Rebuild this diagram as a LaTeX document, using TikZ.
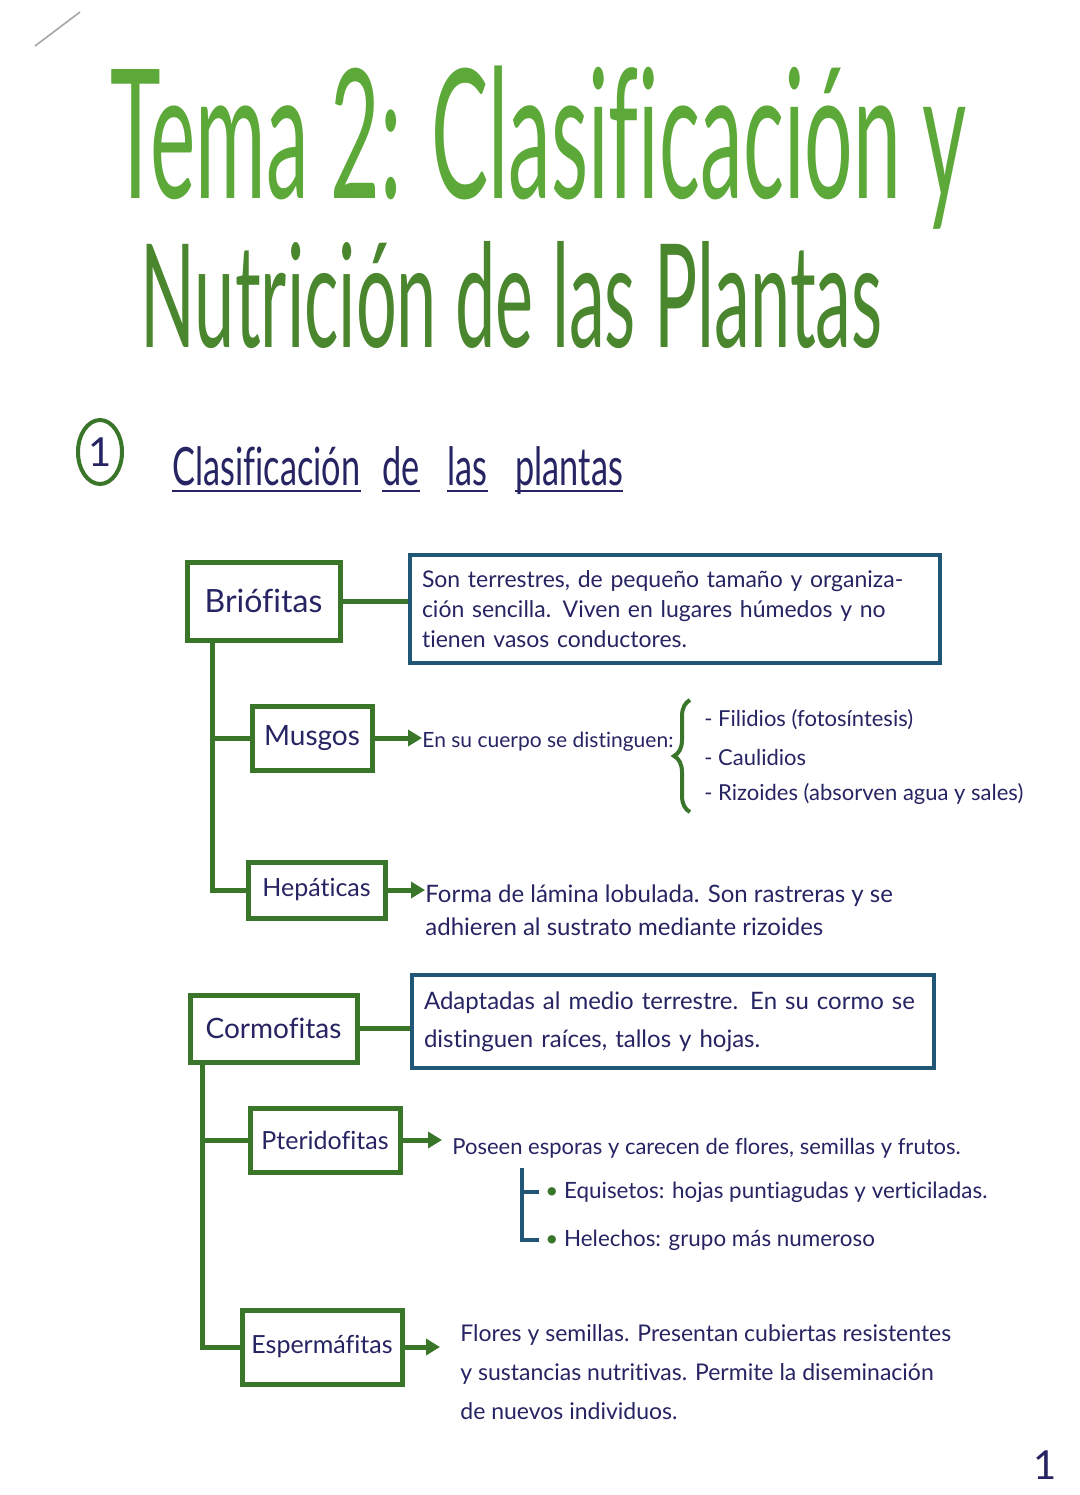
\documentclass[tikz,border=0pt]{standalone}
\usepackage{fontspec}
\setmainfont{Lato}[Ligatures=NoCommon]
\usetikzlibrary{positioning,calc,arrows.meta,shapes.geometric,decorations.pathreplacing}
\definecolor{tinta}{RGB}{38,36,98}
\definecolor{verdecaja}{RGB}{58,118,42}
\definecolor{verdetitulo}{RGB}{92,168,56}
\definecolor{azulcaja}{RGB}{32,86,118}
\newcommand{\estirar}[1]{\scalebox{0.78}[1.2]{#1}}

\begin{document}
\begin{tikzpicture}[x=0.5pt,y=-0.5pt,
    grupo/.style={draw=verdecaja,line width=2.5pt,fill=white,text=tinta,
      font=\fontsize{12.5}{15}\selectfont,inner sep=0pt},
    nota/.style={draw=azulcaja,line width=2pt,text=tinta,align=left,anchor=west,inner sep=6pt},
    texto/.style={text=tinta,align=left,anchor=west,inner sep=0pt},
    palabra/.style={text=tinta,anchor=base west,inner sep=0pt,font=\fontsize{22}{22}\selectfont},
    rama/.style={draw=verdecaja,line width=2.5pt},
    flecha/.style={rama,-{Triangle[length=7pt,width=8pt]}}]

  \useasboundingbox (0,0) rectangle (1080,1495);
  \fill[white] (0,0) rectangle (1080,1495);

  \draw[gray!70,line width=0.8pt] (35,46) -- (80,12);

  % titulo
  \node[text=verdetitulo,anchor=base west,inner sep=0pt] (tit1) at (110,198)
    {\scalebox{0.476}[1]{\fontsize{90}{90}\selectfont Tema 2: Clasificación y}};
  \node[text=verdetitulo!80!black,anchor=base west,inner sep=0pt] (tit2) at (140,347)
    {\scalebox{0.5}[1]{\fontsize{72}{72}\selectfont Nutrición de las Plantas}};

  % apartado 1
  \node[ellipse,draw=verdecaja,line width=2pt,minimum width=22pt,minimum height=32pt,
    inner sep=0pt,text=tinta,font=\fontsize{20}{20}\selectfont] (num) at (100,452) {1};
  \node[palabra] (h1) at (172,485) {\estirar{Clasificación}};
  \node[palabra] (h2) at (382,485) {\estirar{de}};
  \node[palabra] (h3) at (447,485) {\estirar{las}};
  \node[palabra] (h4) at (515,485) {\estirar{plantas}};
  \foreach \w in {h1,h2,h3,h4}
    \draw[tinta,line width=0.8pt] ([yshift=-3pt]\w.base west) -- ([yshift=-3pt]\w.base east);

  % briofitas
  \node[grupo,minimum width=76.5pt,minimum height=39pt,font=\fontsize{16}{18}\selectfont] (brio) at (263.5,601) {Briófitas};
  \node[nota,minimum width=265pt,minimum height=54pt,text width=253pt,
    font=\fontsize{11.5}{15}\selectfont] (brioinfo) at (408,609)
    {Son terrestres, de pequeño tamaño y organiza-\\ción sencilla. Viven en lugares húmedos y no\\tienen vasos conductores.};
  \draw[rama] (brio.east) -- (brio.east -| brioinfo.west);

  \node[grupo,minimum width=60pt,minimum height=32pt,font=\fontsize{14}{16}\selectfont] (musgos) at (312,738) {Musgos};
  \node[texto,font=\fontsize{10.5}{15}\selectfont] (musgostxt) at (422,742) {En su cuerpo se distinguen:};
  \draw[flecha] (musgos.east) -- (musgos.east -| musgostxt.west);
  \draw[rama,line width=2pt,decorate,decoration={brace,amplitude=8pt}] (690,812) -- (690,700);
  \foreach \t [count=\i] in {Filidios (fotosíntesis),Caulidios,Rizoides (absorven agua y sales)}
    \node[texto,font=\fontsize{11}{15}\selectfont] (item\i) at (704,{683+37*\i}) {- \t};

  \node[grupo,minimum width=68.5pt,minimum height=28pt] (hepat) at (316.5,890) {Hepáticas};
  \node[texto,font=\fontsize{12}{16.5}\selectfont] (hepattxt) at (425,910)
    {Forma de lámina lobulada. Son rastreras y se\\adhieren al sustrato mediante rizoides};
  \draw[flecha] (hepat.east) -- (hepat.east -| hepattxt.west);

  \draw[rama] ([xshift=14pt]brio.south west) |- (musgos.west);
  \draw[rama] ([xshift=14pt]brio.south west) |- (hepat.west);

  % cormofitas
  \node[grupo,minimum width=83.5pt,minimum height=33.5pt,font=\fontsize{14}{16}\selectfont] (cormo) at (273.5,1028.5) {Cormofitas};
  \node[nota,minimum width=261pt,minimum height=46.5pt,text width=249pt,
    font=\fontsize{12}{19}\selectfont] (cormoinfo) at (410,1021.5)
    {Adaptadas al medio terrestre. En su cormo se\\distinguen raíces, tallos y hojas.};
  \draw[rama] (cormo.east) -- (cormo.east -| cormoinfo.west);

  \node[grupo,minimum width=75pt,minimum height=32pt] (pteri) at (325,1140) {Pteridofitas};
  \node[texto,font=\fontsize{11}{15}\selectfont] (pteritxt) at (452,1148)
    {Poseen esporas y carecen de flores, semillas y frutos.};
  \draw[flecha,shorten >=5pt] (pteri.east) -- (pteri.east -| pteritxt.west);

  \node[texto,font=\fontsize{11.2}{15}\selectfont] (equi) at (545,1192)
    {{\color{verdecaja}\textbullet} Equisetos: hojas puntiagudas y verticiladas.};
  \node[texto,font=\fontsize{11.2}{15}\selectfont] (hele) at (545,1240)
    {{\color{verdecaja}\textbullet} Helechos: grupo más numeroso};
  \coordinate (llave) at (522,1168);
  \draw[azulcaja,line width=2pt,shorten >=3pt] (llave) |- (hele.west);
  \draw[azulcaja,line width=2pt,shorten >=3pt] (llave |- equi.west) -- (equi.west);

  \node[grupo,minimum width=80pt,minimum height=37pt] (esper) at (322,1347) {Espermáfitas};
  \node[texto,font=\fontsize{11.5}{19.5}\selectfont] (espertxt) at (460,1372)
    {Flores y semillas. Presentan cubiertas resistentes\\y sustancias nutritivas. Permite la diseminación\\de nuevos individuos.};
  \draw[flecha,shorten >=10pt] (esper.east) -- (esper.east -| espertxt.west);

  \draw[rama] ([xshift=7.5pt]cormo.south west) |- (pteri.west);
  \draw[rama] ([xshift=7.5pt]cormo.south west) |- (esper.west);

  \node[text=tinta,font=\fontsize{20}{20}\selectfont] (pagina) at (1045,1465) {1};
\end{tikzpicture}
\end{document}
